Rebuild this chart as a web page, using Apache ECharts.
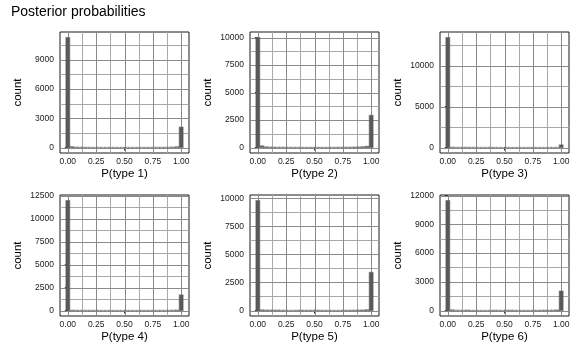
<!DOCTYPE html>
<html>
<head>
<meta charset="utf-8">
<script src="https://cdn.jsdelivr.net/npm/echarts@6/dist/echarts.min.js"></script>
<style>
html,body{margin:0;padding:0;background:#fff;}
#chart{width:581px;height:359px;}
</style>
</head>
<body>
<div id="chart"></div>
<script>
// ---- data ----
const TITLE = 'Posterior probabilities';
const PANEL_TITLES = ['P(type 1)', 'P(type 2)', 'P(type 3)', 'P(type 4)', 'P(type 5)', 'P(type 6)'];
const Y_NAME = 'count';
// 30 histogram bin centres
const BIN_CENTERS = [0.0000, 0.0345, 0.0690, 0.1034, 0.1379, 0.1724, 0.2069, 0.2414, 0.2759, 0.3103,
  0.3448, 0.3793, 0.4138, 0.4483, 0.4828, 0.5172, 0.5517, 0.5862, 0.6207, 0.6552,
  0.6897, 0.7241, 0.7586, 0.7931, 0.8276, 0.8621, 0.8966, 0.9310, 0.9655, 1.0000];
const BIN_WIDTH = 0.0345;
const COUNTS_1 = [11300, 90, 35, 25, 20, 15, 12, 10, 10, 8, 8, 8, 8, 8, 8, 8, 8, 8, 8, 8, 10, 10, 12, 15, 18, 20, 25, 40, 80, 2100];
const COUNTS_2 = [10000, 150, 60, 40, 30, 25, 20, 18, 15, 15, 12, 12, 12, 12, 12, 12, 12, 12, 12, 15, 15, 18, 20, 25, 30, 40, 50, 70, 110, 2930];
const COUNTS_3 = [13480, 40, 20, 15, 15, 25, 15, 10, 8, 8, 8, 20, 10, 6, 6, 5, 5, 5, 5, 5, 5, 5, 5, 5, 5, 5, 6, 8, 15, 320];
const COUNTS_4 = [12000, 40, 25, 20, 15, 15, 20, 15, 10, 10, 8, 8, 8, 8, 8, 10, 10, 8, 8, 10, 10, 12, 12, 15, 15, 15, 20, 30, 50, 1700];
const COUNTS_5 = [9800, 60, 40, 30, 30, 35, 25, 15, 12, 10, 20, 25, 20, 20, 20, 25, 20, 15, 12, 10, 10, 12, 15, 20, 25, 30, 35, 45, 70, 3400];
const COUNTS_6 = [11480, 70, 30, 20, 15, 40, 15, 10, 8, 8, 10, 10, 30, 15, 15, 20, 30, 20, 10, 10, 10, 12, 15, 20, 25, 40, 25, 35, 60, 2030];
const X_TICKS = [0, 0.25, 0.5, 0.75, 1];
const X_MINOR = [0.125, 0.375, 0.625, 0.875];
const Y_TICKS_1 = [0, 3000, 6000, 9000];
const Y_MINOR_1 = [1500, 4500, 7500, 10500];
const Y_TICKS_2 = [0, 2500, 5000, 7500, 10000];
const Y_MINOR_2 = [1250, 3750, 6250, 8750];
const Y_TICKS_3 = [0, 5000, 10000];
const Y_MINOR_3 = [2500, 7500, 12500];
const Y_TICKS_4 = [0, 2500, 5000, 7500, 10000, 12500];
const Y_MINOR_4 = [1250, 3750, 6250, 8750, 11250];
const Y_TICKS_5 = [0, 2500, 5000, 7500, 10000];
const Y_MINOR_5 = [1250, 3750, 6250, 8750];
const Y_TICKS_6 = [0, 3000, 6000, 9000, 12000];
const Y_MINOR_6 = [1500, 4500, 7500, 10500];

const COUNTS = [COUNTS_1, COUNTS_2, COUNTS_3, COUNTS_4, COUNTS_5, COUNTS_6];
const Y_TICKS = [Y_TICKS_1, Y_TICKS_2, Y_TICKS_3, Y_TICKS_4, Y_TICKS_5, Y_TICKS_6];
const Y_MINOR = [Y_MINOR_1, Y_MINOR_2, Y_MINOR_3, Y_MINOR_4, Y_MINOR_5, Y_MINOR_6];

// ---- layout / style ----
const FONT = 'Liberation Sans';
const PANEL_LEFT = [60, 250, 440];
const PANEL_TOP = [32, 195];
const PANEL_W = 129, PANEL_H = 121;
const BAR_COLOR = '#595959';
const MAJOR_COLOR = '#8a8a8a';
const MINOR_COLOR = '#a8a8a8';
const BORDER_COLOR = '#1a1a1a';

const xLo = BIN_CENTERS[0] - BIN_WIDTH / 2;
const xHi = BIN_CENTERS[BIN_CENTERS.length - 1] + BIN_WIDTH / 2;
const xPad = 0.05 * (xHi - xLo);

const grids = [], xAxes = [], yAxes = [], series = [];
for (let i = 0; i < 6; i++) {
  const col = i % 3, row = Math.floor(i / 3);
  const M = Math.max.apply(null, COUNTS[i]);
  grids.push({
    left: PANEL_LEFT[col], top: PANEL_TOP[row], width: PANEL_W, height: PANEL_H,
    show: true, borderColor: BORDER_COLOR, borderWidth: 1, backgroundColor: 'transparent'
  });
  xAxes.push({
    type: 'value', gridIndex: i, min: xLo - xPad, max: xHi + xPad,
    name: PANEL_TITLES[i], nameLocation: 'middle', nameGap: 13,
    nameTextStyle: { fontSize: 11.5, color: '#000', fontFamily: FONT },
    axisLine: { show: false },
    axisTick: { show: true, customValues: X_TICKS, length: 3, lineStyle: { color: '#333', width: 1 } },
    axisLabel: { customValues: X_TICKS, formatter: v => v.toFixed(2), fontSize: 8.5, color: '#1a1a1a', margin: 4.5, fontFamily: FONT },
    splitLine: { show: false }
  });
  yAxes.push({
    type: 'value', gridIndex: i, min: -0.05 * M, max: 1.05 * M,
    name: Y_NAME, nameLocation: 'middle', nameGap: 36,
    nameTextStyle: { fontSize: 11.5, color: '#000', fontFamily: FONT },
    axisLine: { show: false },
    axisTick: { show: true, customValues: Y_TICKS[i], length: 3, lineStyle: { color: '#333', width: 1 } },
    axisLabel: { customValues: Y_TICKS[i], formatter: v => String(Math.round(v)), fontSize: 8.5, color: '#1a1a1a', margin: 6, fontFamily: FONT },
    splitLine: { show: false }
  });
  // grid lines: [x, y, kind]  kind 0 = vertical major, 1 = vertical minor, 2 = horizontal major, 3 = horizontal minor
  const lines = [];
  X_MINOR.forEach(v => lines.push([v, 0, 1]));
  Y_MINOR[i].forEach(v => lines.push([0, v, 3]));
  X_TICKS.forEach(v => lines.push([v, 0, 0]));
  Y_TICKS[i].forEach(v => lines.push([0, v, 2]));
  series.push({
    type: 'custom', xAxisIndex: i, yAxisIndex: i, z: 1, silent: true,
    data: lines,
    renderItem: function (params, api) {
      const cs = params.coordSys;
      const kind = api.value(2);
      const color = (kind === 0 || kind === 2) ? MAJOR_COLOR : MINOR_COLOR;
      if (kind < 2) {
        const px = Math.round(api.coord([api.value(0), 0])[0]) + 0.5;
        return { type: 'line', shape: { x1: px, y1: cs.y, x2: px, y2: cs.y + cs.height }, style: { stroke: color, lineWidth: 1 } };
      } else {
        const py = Math.round(api.coord([0, api.value(1)])[1]) + 0.5;
        return { type: 'line', shape: { x1: cs.x, y1: py, x2: cs.x + cs.width, y2: py }, style: { stroke: color, lineWidth: 1 } };
      }
    }
  });
  series.push({
    type: 'custom', xAxisIndex: i, yAxisIndex: i, z: 2, silent: true,
    data: BIN_CENTERS.map((c, k) => [c, COUNTS[i][k]]),
    renderItem: function (params, api) {
      const c = api.value(0), v = api.value(1);
      const p0 = api.coord([c - BIN_WIDTH / 2, v]);
      const p1 = api.coord([c + BIN_WIDTH / 2, 0]);
      return { type: 'rect', shape: { x: p0[0], y: p0[1], width: p1[0] - p0[0], height: p1[1] - p0[1] },
        style: { fill: BAR_COLOR, stroke: BAR_COLOR, lineWidth: 1.2, strokeOpacity: 0.45 } };
    }
  });
}

const chart = echarts.init(document.getElementById('chart'), null, { renderer: 'canvas' });
chart.setOption({
  animation: false,
  backgroundColor: '#fff',
  textStyle: { fontFamily: FONT },
  title: { text: TITLE, left: 11, top: 5, padding: 0, textStyle: { fontSize: 14, fontWeight: 'normal', color: '#000', fontFamily: FONT } },
  grid: grids, xAxis: xAxes, yAxis: yAxes, series: series
});
</script>
</body>
</html>
